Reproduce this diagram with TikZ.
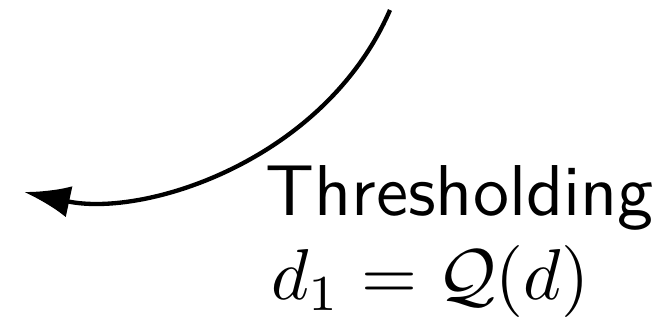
\documentclass[tikz,border=0pt]{standalone}
\usepackage{amsmath,amssymb}
\usetikzlibrary{arrows.meta,positioning}

\begin{document}
\begin{tikzpicture}[x=0.1389pt,y=-0.1389pt,>={Latex[length=6.4pt,width=4.4pt]}]
\useasboundingbox (0,0) rectangle (662,321);
\coordinate (from) at (390,10);
\coordinate (to) at (24,192);
\node[inner sep=0pt,anchor=base west,font=\sffamily] (thr) at (264,216) {Thresholding};
\node[inner sep=0pt,anchor=base west] (quant) at (270,300) {$d_1 = \mathcal{Q}(d)$};

\draw[->,semithick] (from) .. controls (325,160) and (145,218) .. (to);
\end{tikzpicture}
\end{document}
